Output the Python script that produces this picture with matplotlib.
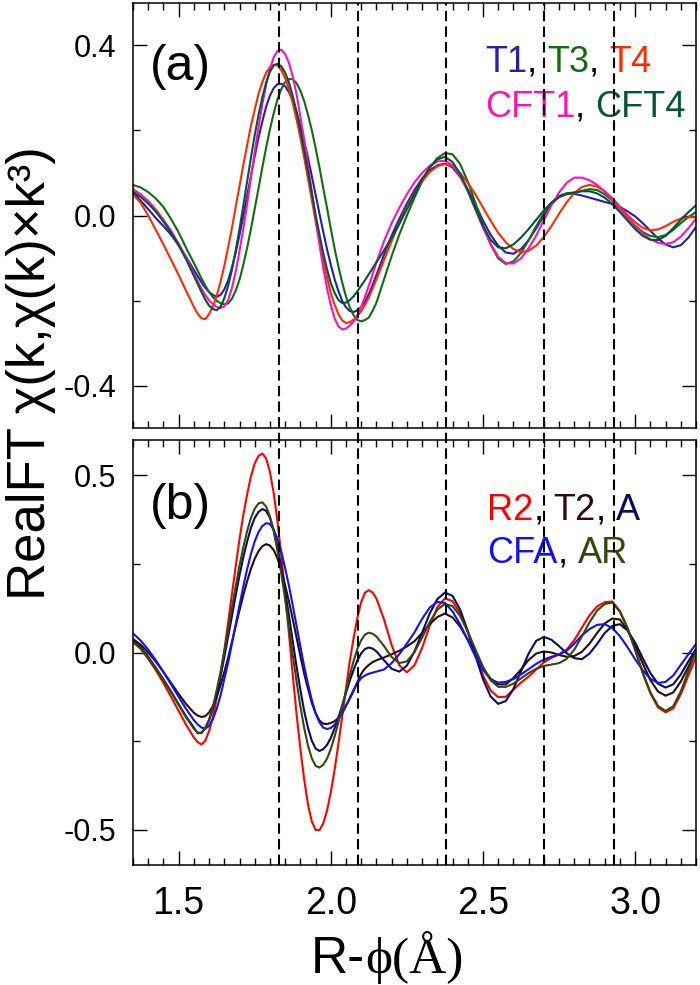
import numpy as np
import matplotlib
matplotlib.use("Agg")
import matplotlib.pyplot as plt
from matplotlib import transforms

plt.rcParams['font.family'] = ['Liberation Sans', 'DejaVu Sans']

# R grid (Angstrom) shared by every curve; finer where the first shells are steep
R = np.round(np.concatenate([np.arange(1.35, 1.5501, 0.025),
                             np.arange(1.5625, 2.1501, 0.0125),
                             np.arange(2.175, 3.2001, 0.025)]), 4)

# panel (a)
T1 = [0.055, 0.035, 0.015, -0.006, -0.025, -0.045, -0.070, -0.098, -0.128,
      -0.143, -0.157, -0.170, -0.180, -0.187, -0.191, -0.187, -0.174, -0.153, -0.123,
      -0.087, -0.046, -0.001, 0.046, 0.093, 0.140, 0.183, 0.221, 0.256, 0.282,
      0.300, 0.309, 0.310, 0.304, 0.290, 0.270, 0.243, 0.210, 0.174, 0.136,
      0.093, 0.049, 0.005, -0.038, -0.079, -0.116, -0.150, -0.178, -0.201, -0.216,
      -0.225, -0.227, -0.223, -0.215, -0.202, -0.185, -0.163, -0.140,
      -0.092, -0.047, -0.008, 0.028, 0.060, 0.087, 0.106, 0.118, 0.122, 0.113,
      0.091, 0.061, 0.026, -0.012, -0.045, -0.071, -0.087, -0.090, -0.079, -0.058,
      -0.030, 0.000, 0.027, 0.045, 0.052, 0.051, 0.047, 0.042, 0.037, 0.032,
      0.027, 0.020, 0.010, -0.002, -0.018, -0.036, -0.054, -0.068, -0.075, -0.070,
      -0.052, -0.027]
T3 = [0.072, 0.066, 0.055, 0.040, 0.020, -0.008, -0.040, -0.077, -0.112,
      -0.130, -0.148, -0.165, -0.180, -0.192, -0.201, -0.206, -0.209, -0.207, -0.196,
      -0.177, -0.151, -0.116, -0.076, -0.032, 0.016, 0.064, 0.113, 0.160, 0.203,
      0.241, 0.274, 0.298, 0.314, 0.321, 0.321, 0.311, 0.294, 0.269, 0.237,
      0.201, 0.159, 0.114, 0.065, 0.018, -0.031, -0.078, -0.120, -0.158, -0.191,
      -0.216, -0.235, -0.246, -0.249, -0.246, -0.240, -0.224, -0.205,
      -0.150, -0.095, -0.045, 0.000, 0.042, 0.080, 0.112, 0.135, 0.147, 0.144,
      0.121, 0.080, 0.030, -0.023, -0.068, -0.101, -0.114, -0.108, -0.088, -0.058,
      -0.025, 0.005, 0.030, 0.046, 0.052, 0.054, 0.058, 0.062, 0.060, 0.050,
      0.035, 0.015, -0.005, -0.024, -0.039, -0.048, -0.051, -0.046, -0.034, -0.018,
      -0.004, 0.008]
T4 = [0.050, 0.030, 0.000, -0.034, -0.068, -0.104, -0.140, -0.178, -0.215,
      -0.231, -0.242, -0.244, -0.232, -0.214, -0.189, -0.156, -0.119, -0.075, -0.030,
      0.020, 0.069, 0.119, 0.165, 0.211, 0.249, 0.286, 0.314, 0.336, 0.349,
      0.355, 0.353, 0.342, 0.323, 0.297, 0.264, 0.226, 0.183, 0.136, 0.087,
      0.037, -0.013, -0.061, -0.106, -0.145, -0.182, -0.210, -0.232, -0.247, -0.253,
      -0.251, -0.245, -0.236, -0.225, -0.210, -0.193, -0.172, -0.150,
      -0.105, -0.060, -0.018, 0.020, 0.053, 0.080, 0.102, 0.116, 0.121, 0.115,
      0.100, 0.077, 0.050, 0.019, -0.012, -0.041, -0.063, -0.079, -0.086, -0.083,
      -0.071, -0.050, -0.025, 0.004, 0.031, 0.053, 0.067, 0.072, 0.068, 0.057,
      0.041, 0.021, 0.001, -0.016, -0.029, -0.035, -0.033, -0.025, -0.015, -0.007,
      -0.004, -0.004]
CFT1 = [0.062, 0.050, 0.034, 0.014, -0.010, -0.036, -0.066, -0.099, -0.137,
        -0.155, -0.172, -0.187, -0.200, -0.209, -0.215, -0.218, -0.214, -0.199, -0.171,
        -0.132, -0.084, -0.031, 0.026, 0.089, 0.150, 0.208, 0.262, 0.307, 0.346,
        0.372, 0.387, 0.390, 0.380, 0.359, 0.327, 0.285, 0.232, 0.179, 0.118,
        0.056, -0.007, -0.067, -0.123, -0.171, -0.211, -0.242, -0.261, -0.268, -0.266,
        -0.259, -0.250, -0.234, -0.215, -0.191, -0.165, -0.138, -0.110,
        -0.060, -0.018, 0.018, 0.050, 0.078, 0.100, 0.117, 0.127, 0.129, 0.118,
        0.093, 0.057, 0.014, -0.029, -0.066, -0.097, -0.112, -0.113, -0.101, -0.077,
        -0.047, -0.011, 0.024, 0.054, 0.077, 0.089, 0.089, 0.083, 0.072, 0.056,
        0.037, 0.016, -0.005, -0.026, -0.042, -0.056, -0.064, -0.067, -0.063, -0.050,
        -0.030, -0.008]
CFT4 = [0.056, 0.044, 0.028, 0.009, -0.014, -0.040, -0.070, -0.104, -0.142,
        -0.161, -0.180, -0.198, -0.212, -0.220, -0.223, -0.215, -0.195, -0.166, -0.128,
        -0.082, -0.032, 0.024, 0.080, 0.136, 0.189, 0.237, 0.278, 0.313, 0.338,
        0.353, 0.357, 0.351, 0.336, 0.313, 0.281, 0.244, 0.201, 0.153, 0.104,
        0.054, 0.002, -0.044, -0.088, -0.126, -0.159, -0.182, -0.199, -0.206, -0.205,
        -0.199, -0.190, -0.178, -0.165, -0.152, -0.138, -0.124, -0.110,
        -0.082, -0.052, -0.020, 0.015, 0.050, 0.085, 0.113, 0.132, 0.138, 0.126,
        0.098, 0.060, 0.017, -0.024, -0.057, -0.075, -0.077, -0.068, -0.052, -0.032,
        -0.010, 0.012, 0.030, 0.043, 0.050, 0.054, 0.057, 0.057, 0.052, 0.042,
        0.027, 0.008, -0.012, -0.032, -0.048, -0.057, -0.058, -0.048, -0.030, -0.010,
        0.008, 0.024]

# panel (b)
R2 = [0.030, 0.010, -0.018, -0.050, -0.086, -0.125, -0.165, -0.205, -0.240,
      -0.253, -0.260, -0.249, -0.222, -0.183, -0.129, -0.061, 0.006, 0.084, 0.164,
      0.243, 0.320, 0.388, 0.446, 0.497, 0.534, 0.555, 0.562, 0.548, 0.510,
      0.449, 0.369, 0.272, 0.165, 0.052, -0.063, -0.174, -0.272, -0.358, -0.429,
      -0.477, -0.501, -0.502, -0.483, -0.447, -0.395, -0.331, -0.258, -0.180, -0.101,
      -0.024, 0.041, 0.099, 0.143, 0.169, 0.176, 0.169, 0.152,
      0.093, 0.021, -0.036, -0.056, -0.036, 0.013, 0.075, 0.128, 0.153, 0.145,
      0.110, 0.057, -0.005, -0.064, -0.107, -0.126, -0.125, -0.105, -0.085, -0.068,
      -0.048, -0.028, -0.015, -0.005, 0.008, 0.035, 0.070, 0.105, 0.130, 0.142,
      0.144, 0.117, 0.070, 0.008, -0.058, -0.115, -0.155, -0.169, -0.158, -0.118,
      -0.065, -0.014]
T2 = [0.038, 0.022, 0.000, -0.026, -0.055, -0.086, -0.117, -0.146, -0.170,
      -0.178, -0.182, -0.180, -0.169, -0.151, -0.126, -0.092, -0.055, -0.015, 0.030,
      0.075, 0.119, 0.162, 0.201, 0.236, 0.265, 0.286, 0.300, 0.306, 0.302,
      0.289, 0.265, 0.232, 0.189, 0.144, 0.094, 0.042, -0.010, -0.060, -0.102,
      -0.142, -0.172, -0.192, -0.201, -0.202, -0.199, -0.194, -0.185, -0.170, -0.150,
      -0.130, -0.108, -0.083, -0.060, -0.045, -0.035, -0.027, -0.022,
      -0.014, -0.005, 0.005, 0.017, 0.032, 0.055, 0.080, 0.100, 0.110, 0.099,
      0.073, 0.036, -0.006, -0.045, -0.074, -0.090, -0.090, -0.072, -0.048, -0.021,
      -0.003, 0.003, 0.000, -0.007, -0.012, -0.010, 0.002, 0.025, 0.055, 0.082,
      0.096, 0.093, 0.063, 0.020, -0.031, -0.078, -0.110, -0.122, -0.113, -0.082,
      -0.040, 0.005]
A = [0.033, 0.015, -0.012, -0.043, -0.076, -0.110, -0.146, -0.181, -0.212,
     -0.228, -0.226, -0.214, -0.192, -0.159, -0.116, -0.068, -0.013, 0.044, 0.102,
     0.161, 0.218, 0.269, 0.313, 0.352, 0.380, 0.397, 0.405, 0.400, 0.380,
     0.345, 0.297, 0.240, 0.173, 0.104, 0.031, -0.040, -0.105, -0.165, -0.213,
     -0.249, -0.271, -0.278, -0.273, -0.261, -0.241, -0.214, -0.183, -0.149, -0.114,
     -0.079, -0.049, -0.022, -0.002, 0.010, 0.014, 0.011, 0.003,
     -0.022, -0.046, -0.054, -0.037, 0.003, 0.056, 0.110, 0.151, 0.169, 0.160,
     0.121, 0.061, -0.009, -0.075, -0.124, -0.145, -0.137, -0.103, -0.053, -0.003,
     0.033, 0.044, 0.036, 0.018, -0.002, -0.016, -0.019, -0.003, 0.024, 0.055,
     0.075, 0.080, 0.062, 0.028, -0.016, -0.058, -0.088, -0.099, -0.090, -0.062,
     -0.025, 0.010]
CFA = [0.054, 0.034, 0.008, -0.022, -0.055, -0.090, -0.125, -0.160, -0.191,
       -0.203, -0.212, -0.215, -0.207, -0.188, -0.159, -0.122, -0.075, -0.029, 0.024,
       0.079, 0.133, 0.186, 0.235, 0.278, 0.314, 0.340, 0.357, 0.365, 0.363,
       0.346, 0.321, 0.284, 0.238, 0.188, 0.133, 0.075, 0.017, -0.039, -0.089,
       -0.134, -0.171, -0.197, -0.212, -0.216, -0.213, -0.204, -0.190, -0.171, -0.150,
       -0.128, -0.105, -0.087, -0.072, -0.065, -0.060, -0.057, -0.054,
       -0.048, -0.030, -0.005, 0.025, 0.057, 0.095, 0.127, 0.143, 0.140, 0.116,
       0.079, 0.035, -0.011, -0.049, -0.076, -0.085, -0.083, -0.075, -0.062, -0.047,
       -0.032, -0.020, -0.012, -0.006, 0.005, 0.025, 0.048, 0.066, 0.078, 0.080,
       0.069, 0.046, 0.015, -0.019, -0.050, -0.074, -0.086, -0.083, -0.065, -0.035,
       -0.005, 0.024]
AR = [0.030, 0.012, -0.015, -0.045, -0.078, -0.112, -0.148, -0.184, -0.215,
      -0.226, -0.228, -0.213, -0.189, -0.154, -0.106, -0.056, 0.002, 0.063, 0.125,
      0.187, 0.245, 0.297, 0.343, 0.380, 0.406, 0.421, 0.424, 0.412, 0.384,
      0.342, 0.285, 0.222, 0.149, 0.072, -0.007, -0.082, -0.152, -0.213, -0.263,
      -0.299, -0.320, -0.325, -0.317, -0.300, -0.272, -0.237, -0.197, -0.152, -0.108,
      -0.064, -0.024, 0.011, 0.035, 0.051, 0.056, 0.053, 0.045,
      0.018, -0.013, -0.030, -0.025, 0.001, 0.042, 0.086, 0.121, 0.137, 0.131,
      0.103, 0.060, 0.009, -0.040, -0.078, -0.097, -0.097, -0.088, -0.073, -0.058,
      -0.046, -0.038, -0.034, -0.030, -0.018, 0.008, 0.045, 0.085, 0.118, 0.137,
      0.141, 0.115, 0.068, 0.007, -0.057, -0.112, -0.151, -0.165, -0.152, -0.110,
      -0.052, 0.005]

dash_x = [1.83, 2.09, 2.38, 2.70, 2.93]

top = [("T1", T1, "#2b1bb5"), ("T3", T3, "#0d6e0d"), ("T4", T4, "#ff2a00"),
       ("CFT1", CFT1, "#ff10b8"), ("CFT4", CFT4, "#00553a")]
bot = [("R2", R2, "#ff0000"), ("T2", T2, "#2e0a0a"), ("A", A, "#0a0a60"),
       ("CFA", CFA, "#1010ff"), ("AR", AR, "#2e4a0c")]
col = {name: c for name, _, c in top + bot}

fig = plt.figure(figsize=(7, 9.85), dpi=100)
ax1 = fig.add_axes([133/700, 1-428/985, 563/700, 425/985])
ax2 = fig.add_axes([133/700, 1-865/985, 563/700, 425/985])
ax1.set_facecolor('none')

for name, y, c in top:
    ax1.plot(R, y, color=c, lw=1.5, solid_joinstyle='round')
for name, y, c in bot:
    ax2.plot(R, y, color=c, lw=1.5, solid_joinstyle='round')

# dashed guides run through both panels
for xv in dash_x:
    ax2.axvline(xv, ymin=0, ymax=862/425, color='black', lw=1.5,
                ls=(0, (5, 2.5)), clip_on=False, zorder=5)

for ax in (ax1, ax2):
    ax.set_xlim(1.35, 3.2)
    ax.set_xticks([1.5, 2.0, 2.5, 3.0])
    ax.set_xticks(np.arange(1.35, 3.21, 0.05), minor=True)
    ax.tick_params(which='both', direction='in', top=True, right=True,
                   labelsize=22, width=1.0, pad=12)
    ax.tick_params(which='major', length=10)
    ax.tick_params(which='minor', length=5)
    for s in ax.spines.values():
        s.set_linewidth(1.1)

ax1.set_ylim(-0.5, 0.5)
ax1.set_yticks([-0.4, 0.0, 0.4])
ax1.set_yticks([-0.2, 0.2], minor=True)
ax1.set_yticklabels(["-0.4", "0.0", "0.4"])
ax1.tick_params(labelbottom=False)

ax2.set_ylim(-0.6, 0.6)
ax2.set_yticks([-0.5, 0.0, 0.5])
ax2.set_yticks([-0.25, 0.25], minor=True)
ax2.set_yticklabels(["-0.5", "0.0", "0.5"])
ax2.set_xticklabels(["1.5", "2.0", "2.5", "3.0"])
ax2.tick_params(axis='x', labelsize=27, pad=15)

ax1.text(0.03, 0.82, "(a)", transform=ax1.transAxes, fontsize=36, va='baseline')
ax2.text(0.03, 0.813, "(b)", transform=ax2.transAxes, fontsize=36, va='baseline')

fig.canvas.draw()
renderer = fig.canvas.get_renderer()


def colored(ax, x, y, parts, **kw):
    t = ax.transAxes
    for s, c in parts:
        txt = ax.text(x, y, s, color=c, transform=t, va='baseline', **kw)
        ex = txt.get_window_extent(renderer)
        t = transforms.offset_copy(txt.get_transform(), x=ex.width, units='dots')


colored(ax1, 0.625, 0.838, [("T1", col["T1"]), (", ", "k"), ("T3", col["T3"]),
                            (", ", "k"), ("T4", col["T4"])], fontsize=26)
colored(ax1, 0.625, 0.732, [("CFT1", col["CFT1"]), (", ", "k"),
                            ("CFT4", col["CFT4"])], fontsize=26)
colored(ax2, 0.629, 0.812, [("R2", col["R2"]), (", ", "k"), ("T2", col["T2"]),
                            (", ", "k"), ("A", col["A"])], fontsize=26)
colored(ax2, 0.629, 0.711, [("CFA", col["CFA"]), (", ", "k"),
                            ("AR", col["AR"])], fontsize=26)

fig.text(31/700, 1-373/985, "RealFT χ(k,χ(k)×k³)", rotation=90,
         ha='center', va='center', fontsize=38)

# x label: sans "R-" followed by serif "ϕ(Å)"
t1 = fig.text(311/700, 1-973/985, "R-", fontsize=37, va='baseline')
w = t1.get_window_extent(renderer).width
fig.text(311/700 + w/700, 1-973/985, "ϕ(Å)", fontsize=37, va='baseline',
         family=['Liberation Serif', 'DejaVu Serif'])

fig.savefig("out.png", dpi=100)
